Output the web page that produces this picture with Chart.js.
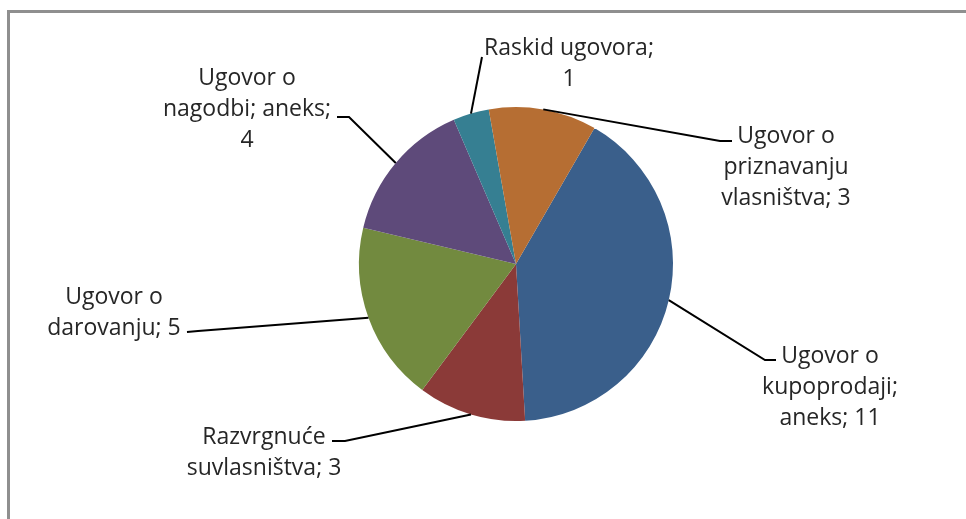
<!DOCTYPE html>
<html>
<head>
<meta charset="utf-8">
<script src="https://cdn.jsdelivr.net/npm/chart.js@4.4.0/dist/chart.umd.min.js"></script>
<style>
  html, body { margin: 0; padding: 0; background: #fff; }
  #wrap { position: relative; width: 966px; height: 519px; overflow: hidden; }
  #frame {
    position: absolute; left: 7px; top: 10px; width: 1000px; height: 600px;
    border-left: 3px solid #8f8f8f; border-top: 3px solid #8f8f8f;
  }
  canvas { position: absolute; left: 0; top: 0; }
</style>
</head>
<body>
<div id="wrap">
  <div id="frame"></div>
  <canvas id="pie" width="966" height="519"></canvas>
</div>
<script>
const categories = [
  "Ugovor o kupoprodaji; aneks",
  "Razvrgnuće suvlasništva",
  "Ugovor o darovanju",
  "Ugovor o nagodbi; aneks",
  "Raskid ugovora",
  "Ugovor o priznavanju vlasništva"
];
const values = [11, 3, 5, 4, 1, 3];
const colors = ["#3a5f8b", "#8b3a38", "#728a3f", "#5e4a7a", "#367f92", "#b66e33"];

// label layout: words per line, text centre x, first line y, leader elbow + end
const labelLayout = [
  { words: [2, 1, 2], x: 830, y: 356, pts: [[765, 360], [776, 360]] },
  { words: [1, 2], x: 264, y: 437, pts: [[345, 441], [332, 441]] },
  { words: [2, 2], x: 114, y: 297, pts: [[198, 331], [187, 332]] },
  { words: [2, 2, 1], x: 247, y: 78, pts: [[349, 117], [337, 117]] },
  { words: [2, 1], x: 569, y: 48, pts: [[482, 57]] },
  { words: [2, 1, 2], x: 786, y: 136, pts: [[720, 141], [732, 141]] }
];
const lineH = 31;
const FONT = "23px 'Open Sans'";

const leaderLabels = {
  id: "leaderLabels",
  afterDraw(chart) {
    const ctx = chart.ctx;
    const meta = chart.getDatasetMeta(0);
    ctx.save();
    meta.data.forEach((arc, i) => {
      const lay = labelLayout[i];
      const mid = (arc.startAngle + arc.endAngle) / 2;
      const sx = arc.x + Math.cos(mid) * arc.outerRadius;
      const sy = arc.y + Math.sin(mid) * arc.outerRadius;
      ctx.beginPath();
      ctx.moveTo(sx, sy);
      lay.pts.forEach(p => ctx.lineTo(p[0], p[1]));
      ctx.strokeStyle = "#000";
      ctx.lineWidth = 2;
      ctx.stroke();

      const words = (categories[i] + "; " + values[i]).split(" ");
      let k = 0;
      ctx.font = FONT;
      ctx.fillStyle = "#262626";
      ctx.textAlign = "center";
      ctx.textBaseline = "middle";
      lay.words.forEach((n, li) => {
        const line = words.slice(k, k + n).join(" ");
        k += n;
        ctx.fillText(line, lay.x, lay.y + li * lineH);
      });
    });
    ctx.restore();
  }
};

new Chart(document.getElementById("pie"), {
  type: "pie",
  data: {
    labels: categories,
    datasets: [{
      data: values,
      backgroundColor: colors,
      borderWidth: 0
    }]
  },
  options: {
    responsive: false,
    animation: false,
    rotation: 30,
    layout: { padding: { top: 107, bottom: 98, left: 359, right: 293 } },
    plugins: { legend: { display: false }, tooltip: { enabled: false } }
  },
  plugins: [leaderLabels]
});
</script>
</body>
</html>
